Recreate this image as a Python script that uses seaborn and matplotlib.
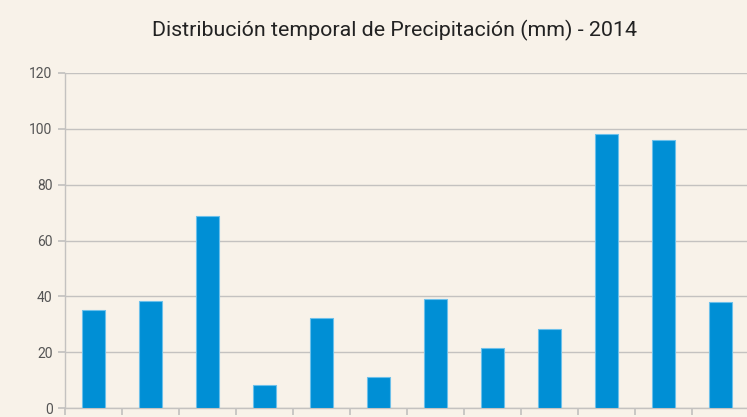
import matplotlib
matplotlib.use("Agg")
import matplotlib.pyplot as plt
import seaborn as sns
import pandas as pd

# monthly precipitation, 2014 (mm)
months = ["Ene", "Feb", "Mar", "Abr", "May", "Jun", "Jul", "Ago", "Sep", "Oct", "Nov", "Dic"]
precip = [35.1, 38.4, 68.8, 8.2, 32.3, 11.1, 39.1, 21.5, 28.3, 98.2, 96.1, 38.0]
yticks = [0, 20, 40, 60, 80, 100, 120]

bg = "#f8f2e9"
bar_color = "#008fd5"
grid_color = "#c4c2c0"

sns.set_theme(style="white")
plt.rcParams["font.family"] = ["Roboto", "DejaVu Sans"]

df = pd.DataFrame({"mes": months, "mm": precip})

fig = plt.figure(figsize=(7.47, 4.17), dpi=100, facecolor=bg)
ax = fig.add_axes([65 / 747, 9 / 417, 684 / 747, 335 / 417])
ax.set_facecolor(bg)

sns.barplot(data=df, x="mes", y="mm", color=bar_color, width=0.4,
            saturation=1, edgecolor="#6cc0ea", linewidth=0.8, ax=ax, zorder=3)

ax.set_ylim(0, 120)
ax.set_yticks(yticks)
ax.set_xlim(-0.5, 11.5)
ax.set_xticks([i - 0.5 for i in range(12)])
ax.set_xlabel("")
ax.set_ylabel("")
ax.grid(axis="y", color=grid_color, linewidth=1, zorder=0)
ax.grid(axis="x", visible=False)

for s in ["top", "right"]:
    ax.spines[s].set_visible(False)
for s in ["left", "bottom"]:
    ax.spines[s].set_color(grid_color)
    ax.spines[s].set_linewidth(1)

ax.tick_params(axis="y", left=True, length=5, color=grid_color, labelsize=10,
               labelcolor="#555555", pad=4)
ax.tick_params(axis="x", bottom=True, length=5, color=grid_color, labelbottom=False)

fig.text(395 / 747, 1 - 30 / 417, "Distribución temporal de Precipitación (mm) - 2014",
         ha="center", va="center", fontsize=15.4, color="#222222")

fig.savefig("out.png", dpi=100, facecolor=bg)
